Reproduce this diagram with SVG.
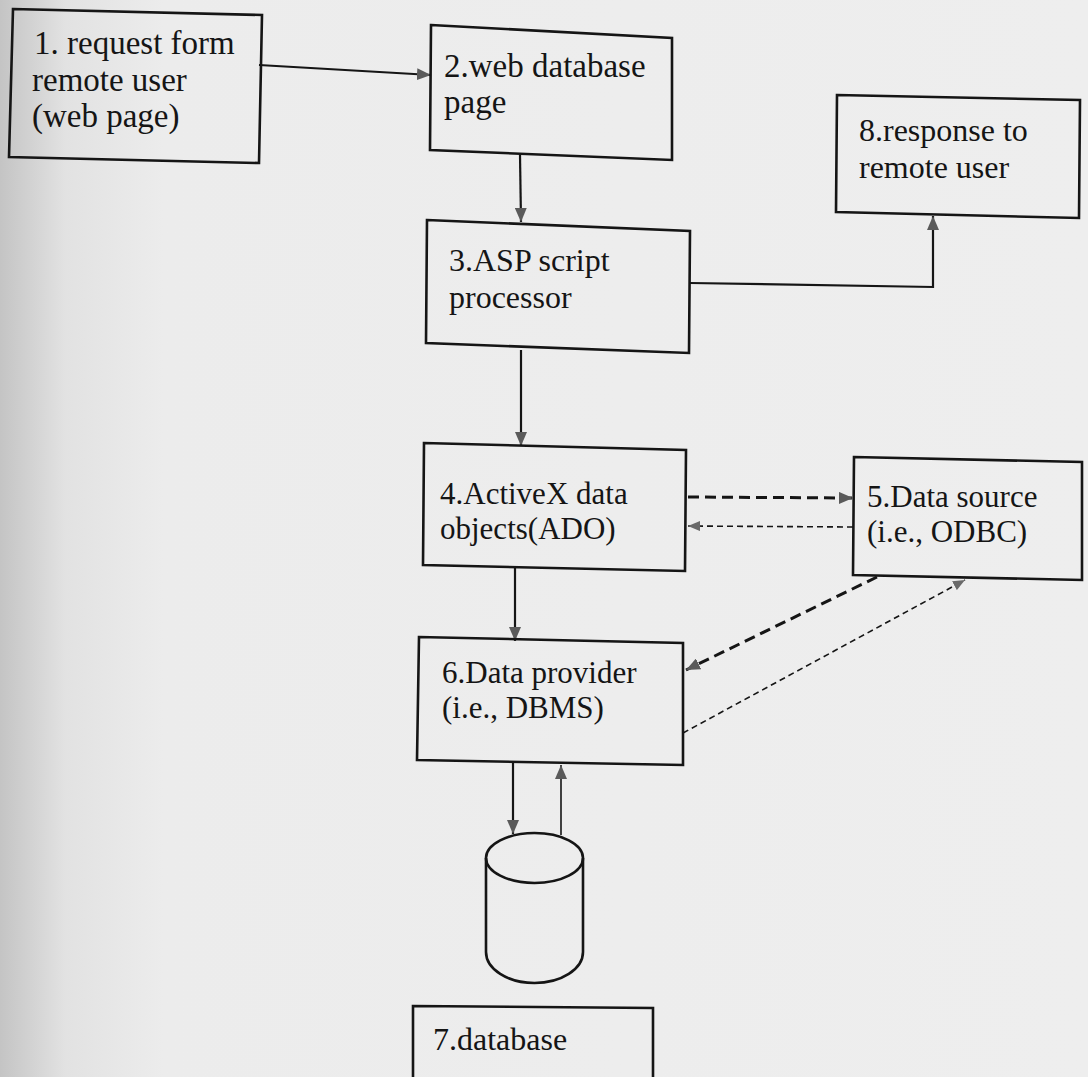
<svg xmlns="http://www.w3.org/2000/svg" width="1088" height="1077" viewBox="0 0 1088 1077">
<defs>
<linearGradient id="bg" x1="0" y1="0" x2="1" y2="0">
<stop offset="0" stop-color="#c4c4c4"/>
<stop offset="0.06" stop-color="#e2e2e2"/>
<stop offset="0.15" stop-color="#ececec"/>
<stop offset="1" stop-color="#eeeeee"/>
</linearGradient>
<marker id="ah" viewBox="0 0 14 12" refX="14" refY="6" markerWidth="14" markerHeight="12" markerUnits="userSpaceOnUse" orient="auto">
<path d="M0,0 L14,6 L0,12 Z" fill="#5a5a5a"/>
</marker>
<marker id="ahs" viewBox="0 0 12 10" refX="12" refY="5" markerWidth="12" markerHeight="10" markerUnits="userSpaceOnUse" orient="auto">
<path d="M0,0 L12,5 L0,10 Z" fill="#6a6a6a"/>
</marker>
</defs>
<style>
.box{fill:none;stroke:#151515;stroke-width:2.6}
.t{font-family:"Liberation Serif","Times New Roman",serif;font-size:32px;fill:#151515}
.big{font-size:33px}
.sm{font-size:31px}
.c{fill:none;stroke:#151515;stroke-width:2.2}
.thin{stroke-width:1.6}
.dash{stroke-dasharray:11 6;stroke-width:3}
.dot{stroke-dasharray:6 4;stroke-width:1.6}
</style>
<rect x="0" y="0" width="1088" height="1077" fill="url(#bg)"/>

<g id="connectors">
<path class="c" d="M259,65 L431,75" marker-end="url(#ah)"/>
<path class="c" d="M520,155 L521,222" marker-end="url(#ah)"/>
<path class="c" d="M690,283 L933,287 L933,216" marker-end="url(#ah)"/>
<path class="c" d="M521,350 L521,446" marker-end="url(#ah)"/>
<path class="c dash" d="M688,497 L853,498" marker-end="url(#ah)"/>
<path class="c dot" d="M853,527 L688,526" marker-end="url(#ahs)"/>
<path class="c" d="M515,568 L515,641" marker-end="url(#ah)"/>
<path class="c dash" d="M877,577 L686,670" marker-end="url(#ah)"/>
<path class="c dot" d="M683,733 L965,580" marker-end="url(#ahs)"/>
<path class="c" d="M513,763 L513,834" marker-end="url(#ah)"/>
<path class="c thin" d="M561,835 L561,765" marker-end="url(#ah)"/>
</g>

<g id="n1">
<polygon class="box" points="13,9 262,15 259,163 9,157"/>
<text class="t big" x="34" y="54">1. request form</text>
<text class="t big" x="32" y="91">remote user</text>
<text class="t big" x="32" y="127">(web page)</text>
</g>
<g id="n2">
<polygon class="box" points="431,25 672,38 672,160 430,150"/>
<text class="t big" x="444" y="77">2.web database</text>
<text class="t big" x="444" y="113">page</text>
</g>
<g id="n3">
<polygon class="box" points="427,220 690,231 689,353 426,343"/>
<text class="t" x="449" y="271">3.ASP script</text>
<text class="t" x="449" y="308">processor</text>
</g>
<g id="n8">
<polygon class="box" points="837,95 1080,100 1079,218 836,212"/>
<text class="t" x="859" y="141">8.response to</text>
<text class="t" x="859" y="178">remote user</text>
</g>
<g id="n4">
<polygon class="box" points="424,443 686,450 685,571 423,565"/>
<text class="t sm" x="440" y="504">4.ActiveX data</text>
<text class="t sm" x="440" y="539">objects(ADO)</text>
</g>
<g id="n5">
<polygon class="box" points="854,457 1082,462 1082,580 853,575"/>
<text class="t sm" x="867" y="507">5.Data source</text>
<text class="t sm" x="867" y="542">(i.e., ODBC)</text>
</g>
<g id="n6">
<polygon class="box" points="419,637 683,643 683,765 417,760"/>
<text class="t sm" x="442" y="683">6.Data provider</text>
<text class="t sm" x="442" y="718">(i.e., DBMS)</text>
</g>
<g id="n9">
<path class="box" d="M486,858 L486,952 A48.5,31 0 0 0 583,952 L583,858"/>
<ellipse class="box" cx="534.5" cy="858" rx="48.5" ry="25"/>
</g>
<g id="n7">
<polygon class="box" points="413,1006 653,1008 653,1090 413,1090"/>
<text class="t" x="433" y="1050">7.database</text>
</g>
</svg>
